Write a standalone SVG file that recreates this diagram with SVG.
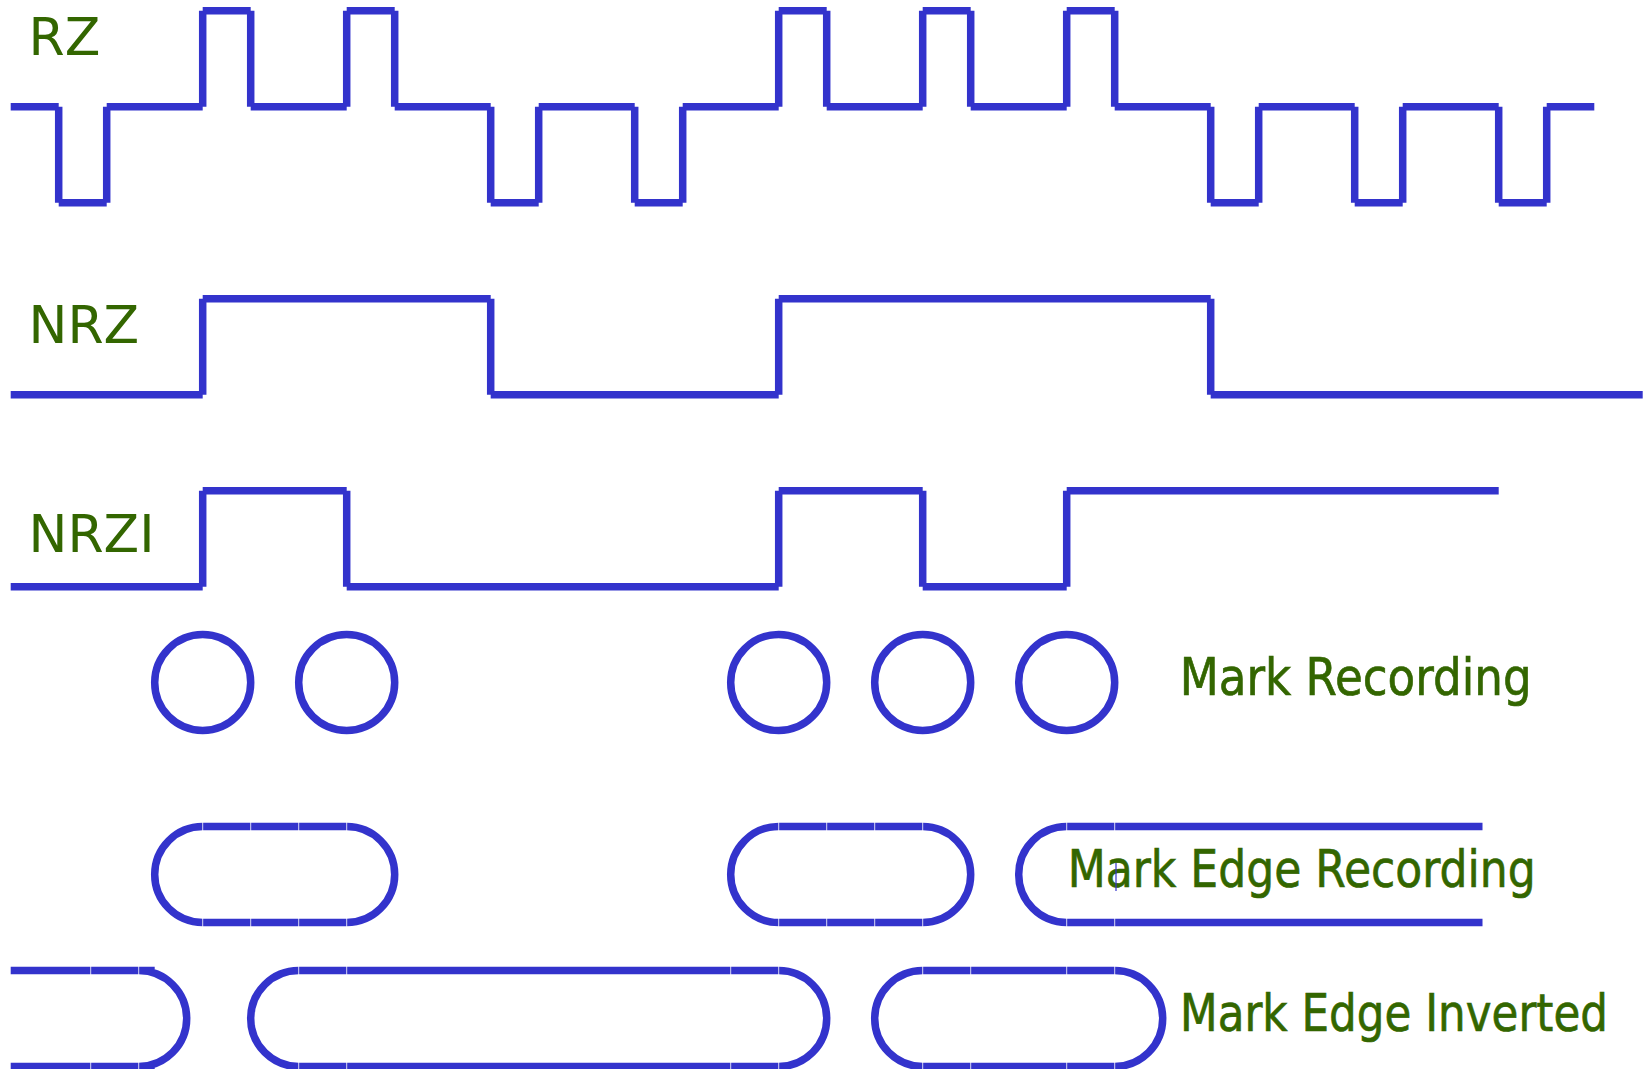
<svg xmlns="http://www.w3.org/2000/svg" width="1646" height="1069" viewBox="0 0 1646 1069">
  <style>
    .wave { fill: none; stroke: #3333CC; stroke-width: 7.5; stroke-linecap: butt; stroke-linejoin: miter; }
    .tick { stroke: #FFFFFF; stroke-width: 1; stroke-opacity: 0.8; }
    .label { font-family: "DejaVu Sans", "Liberation Sans", sans-serif; font-size: 52px; fill: #336600; }
    .caption { stroke: #336600; stroke-width: 0.7; }
  </style>
  <rect width="1646" height="1069" fill="#FFFFFF"/>

  <!-- Signal labels -->
  <g id="label-rz"><text class="label" x="28.5" y="55">RZ</text></g>
  <g id="label-nrz"><text class="label" x="28.5" y="343.3">NRZ</text></g>
  <g id="label-nrzi"><text class="label" x="28.5" y="551.7">NRZI</text></g>

  <!-- Waveforms: each segment is its own subpath so the corners stay notched -->
  <g id="waveforms">
    <path id="rz" class="wave" d="M10.7,106.7 L58.7,106.7 M58.7,106.7 L58.7,202.7 M58.7,202.7 L106.7,202.7 M106.7,202.7 L106.7,106.7 M106.7,106.7 L202.7,106.7 M202.7,106.7 L202.7,10.7 M202.7,10.7 L250.7,10.7 M250.7,10.7 L250.7,106.7 M250.7,106.7 L346.7,106.7 M346.7,106.7 L346.7,10.7 M346.7,10.7 L394.7,10.7 M394.7,10.7 L394.7,106.7 M394.7,106.7 L490.7,106.7 M490.7,106.7 L490.7,202.7 M490.7,202.7 L538.7,202.7 M538.7,202.7 L538.7,106.7 M538.7,106.7 L634.7,106.7 M634.7,106.7 L634.7,202.7 M634.7,202.7 L682.7,202.7 M682.7,202.7 L682.7,106.7 M682.7,106.7 L778.7,106.7 M778.7,106.7 L778.7,10.7 M778.7,10.7 L826.7,10.7 M826.7,10.7 L826.7,106.7 M826.7,106.7 L922.7,106.7 M922.7,106.7 L922.7,10.7 M922.7,10.7 L970.7,10.7 M970.7,10.7 L970.7,106.7 M970.7,106.7 L1066.7,106.7 M1066.7,106.7 L1066.7,10.7 M1066.7,10.7 L1114.7,10.7 M1114.7,10.7 L1114.7,106.7 M1114.7,106.7 L1210.7,106.7 M1210.7,106.7 L1210.7,202.7 M1210.7,202.7 L1258.7,202.7 M1258.7,202.7 L1258.7,106.7 M1258.7,106.7 L1354.7,106.7 M1354.7,106.7 L1354.7,202.7 M1354.7,202.7 L1402.7,202.7 M1402.7,202.7 L1402.7,106.7 M1402.7,106.7 L1498.7,106.7 M1498.7,106.7 L1498.7,202.7 M1498.7,202.7 L1546.7,202.7 M1546.7,202.7 L1546.7,106.7 M1546.7,106.7 L1594.3,106.7"/>
    <path id="nrz" class="wave" d="M10.7,394.7 L202.7,394.7 M202.7,394.7 L202.7,298.7 M202.7,298.7 L490.7,298.7 M490.7,298.7 L490.7,394.7 M490.7,394.7 L778.7,394.7 M778.7,394.7 L778.7,298.7 M778.7,298.7 L1210.7,298.7 M1210.7,298.7 L1210.7,394.7 M1210.7,394.7 L1642.7,394.7"/>
    <path id="nrzi" class="wave" d="M10.7,586.7 L202.7,586.7 M202.7,586.7 L202.7,490.7 M202.7,490.7 L346.7,490.7 M346.7,490.7 L346.7,586.7 M346.7,586.7 L778.7,586.7 M778.7,586.7 L778.7,490.7 M778.7,490.7 L922.7,490.7 M922.7,490.7 L922.7,586.7 M922.7,586.7 L1066.7,586.7 M1066.7,586.7 L1066.7,490.7 M1066.7,490.7 L1498.7,490.7"/>
  </g>

  <!-- Mark recording: one spot per 1-bit -->
  <g id="mark-recording">
    <circle class="wave" cx="202.7" cy="682.5" r="48"/>
    <circle class="wave" cx="346.7" cy="682.5" r="48"/>
    <circle class="wave" cx="778.7" cy="682.5" r="48"/>
    <circle class="wave" cx="922.7" cy="682.5" r="48"/>
    <circle class="wave" cx="1066.7" cy="682.5" r="48"/>
    <text class="label caption" x="1179.7" y="695" textLength="352" lengthAdjust="spacingAndGlyphs">Mark Recording</text>
  </g>

  <!-- Mark edge recording: marks spanning between edges -->
  <g id="mark-edge-recording">
    <path class="wave" d="M202.7,826.5 H346.7 A48,48 0 0 1 346.7,922.5 H202.7 A48,48 0 0 1 202.7,826.5 Z"/>
    <path class="wave" d="M778.7,826.5 H922.7 A48,48 0 0 1 922.7,922.5 H778.7 A48,48 0 0 1 778.7,826.5 Z"/>
    <path class="wave" d="M1482.5,826.5 H1066.7 A48,48 0 0 0 1066.7,922.5 H1482.5"/>
    <g>
      <line class="tick" x1="202.7" y1="822" x2="202.7" y2="831"/><line class="tick" x1="250.7" y1="822" x2="250.7" y2="831"/>
      <line class="tick" x1="298.7" y1="822" x2="298.7" y2="831"/><line class="tick" x1="346.7" y1="822" x2="346.7" y2="831"/>
      <line class="tick" x1="202.7" y1="918" x2="202.7" y2="927"/><line class="tick" x1="250.7" y1="918" x2="250.7" y2="927"/>
      <line class="tick" x1="298.7" y1="918" x2="298.7" y2="927"/><line class="tick" x1="346.7" y1="918" x2="346.7" y2="927"/>
      <line class="tick" x1="778.7" y1="822" x2="778.7" y2="831"/><line class="tick" x1="826.7" y1="822" x2="826.7" y2="831"/>
      <line class="tick" x1="874.7" y1="822" x2="874.7" y2="831"/><line class="tick" x1="922.7" y1="822" x2="922.7" y2="831"/>
      <line class="tick" x1="778.7" y1="918" x2="778.7" y2="927"/><line class="tick" x1="826.7" y1="918" x2="826.7" y2="927"/>
      <line class="tick" x1="874.7" y1="918" x2="874.7" y2="927"/><line class="tick" x1="922.7" y1="918" x2="922.7" y2="927"/>
      <line class="tick" x1="1066.7" y1="822" x2="1066.7" y2="831"/><line class="tick" x1="1114.7" y1="822" x2="1114.7" y2="831"/>
      <line class="tick" x1="1066.7" y1="918" x2="1066.7" y2="927"/><line class="tick" x1="1114.7" y1="918" x2="1114.7" y2="927"/>
    </g>
    <text class="label caption" x="1067.7" y="886.7" textLength="468" lengthAdjust="spacingAndGlyphs">Mark Edge Recording</text>
    <line x1="1116" y1="863" x2="1116" y2="891" stroke="#3333CC" stroke-width="1.2"/>
  </g>

  <!-- Mark edge inverted -->
  <g id="mark-edge-inverted">
    <path class="wave" d="M10.7,970.5 H154.7 M138.7,970.5 A48,48 0 0 1 138.7,1066.5 M10.7,1066.5 H154.7"/>
    <path class="wave" d="M298.7,970.5 H778.7 A48,48 0 0 1 778.7,1066.5 H298.7 A48,48 0 0 1 298.7,970.5 Z"/>
    <path class="wave" d="M922.7,970.5 H1114.7 A48,48 0 0 1 1114.7,1066.5 H922.7 A48,48 0 0 1 922.7,970.5 Z"/>
    <g>
      <line class="tick" x1="90.7" y1="966" x2="90.7" y2="975"/><line class="tick" x1="138.7" y1="966" x2="138.7" y2="975"/>
      <line class="tick" x1="90.7" y1="1062" x2="90.7" y2="1071"/><line class="tick" x1="138.7" y1="1062" x2="138.7" y2="1071"/>
      <line class="tick" x1="298.7" y1="966" x2="298.7" y2="975"/><line class="tick" x1="346.7" y1="966" x2="346.7" y2="975"/>
      <line class="tick" x1="730.7" y1="966" x2="730.7" y2="975"/><line class="tick" x1="778.7" y1="966" x2="778.7" y2="975"/>
      <line class="tick" x1="298.7" y1="1062" x2="298.7" y2="1071"/><line class="tick" x1="346.7" y1="1062" x2="346.7" y2="1071"/>
      <line class="tick" x1="730.7" y1="1062" x2="730.7" y2="1071"/><line class="tick" x1="778.7" y1="1062" x2="778.7" y2="1071"/>
      <line class="tick" x1="922.7" y1="966" x2="922.7" y2="975"/><line class="tick" x1="970.7" y1="966" x2="970.7" y2="975"/>
      <line class="tick" x1="1066.7" y1="966" x2="1066.7" y2="975"/><line class="tick" x1="1114.7" y1="966" x2="1114.7" y2="975"/>
      <line class="tick" x1="922.7" y1="1062" x2="922.7" y2="1071"/><line class="tick" x1="970.7" y1="1062" x2="970.7" y2="1071"/>
      <line class="tick" x1="1066.7" y1="1062" x2="1066.7" y2="1071"/><line class="tick" x1="1114.7" y1="1062" x2="1114.7" y2="1071"/>
    </g>
    <text class="label caption" x="1180" y="1031" textLength="428" lengthAdjust="spacingAndGlyphs">Mark Edge Inverted</text>
  </g>
</svg>
